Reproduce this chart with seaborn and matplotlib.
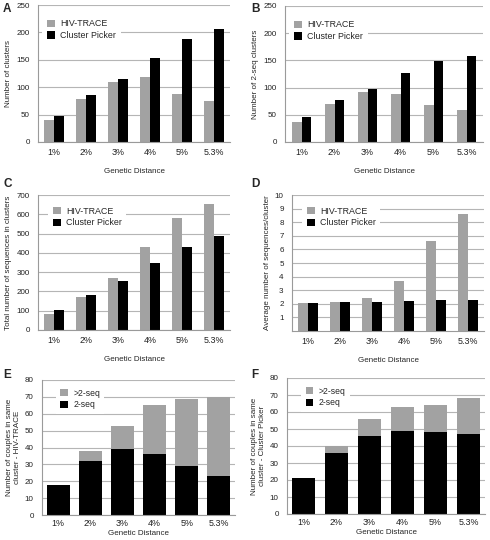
import matplotlib
matplotlib.use("Agg")
import matplotlib.pyplot as plt
import seaborn as sns
import pandas as pd

sns.set_theme(style="white")
plt.rcParams['font.family'] = ['Liberation Sans', 'DejaVu Sans']

categories = ["1%", "2%", "3%", "4%", "5%", "5.3%"]
methods = ["HIV-TRACE", "Cluster Picker"]

a_trace = [40, 78, 110, 118, 88, 75]
a_picker = [48, 85, 115, 154, 188, 206]

b_trace = [36, 70, 92, 89, 68, 58]
b_picker = [46, 78, 98, 127, 149, 158]

c_trace = [85, 170, 272, 432, 582, 655]
c_picker = [102, 180, 253, 347, 428, 485]

d_trace = [2.05, 2.1, 2.45, 3.7, 6.6, 8.6]
d_picker = [2.05, 2.1, 2.15, 2.2, 2.25, 2.3]

e_two = [18, 32, 39, 36, 29, 23]
e_more = [0, 6, 14, 29, 40, 47]

f_two = [21, 36, 46, 49, 48, 47]
f_more = [0, 4, 10, 14, 16, 21]

GRAY = "#a2a2a2"
BLACK = "#000000"
GRID = "#b5b5b5"
FS = 5.8

W, H = 490, 540
fig = plt.figure(figsize=(W / 100, H / 100), dpi=100)


def add_ax(x0, y0, x1, y1):
    return fig.add_axes([x0 / W, 1 - y1 / H, (x1 - x0) / W, (y1 - y0) / H])


def style(ax, ylabel, ymax, step, yticks=None, xpad=4, xlabelpad=8):
    ax.set_ylim(0, ymax)
    if yticks is None:
        yticks = list(range(0, ymax + 1, step))
    ax.set_yticks(yticks)
    ax.yaxis.grid(True, color=GRID, linewidth=0.8)
    ax.xaxis.grid(False)
    ax.set_axisbelow(True)
    for s in ["top", "right"]:
        ax.spines[s].set_visible(False)
    for s in ["left", "bottom"]:
        ax.spines[s].set_color("#9a9a9a")
        ax.spines[s].set_linewidth(0.8)
    ax.tick_params(axis="y", labelsize=FS, length=2, width=0.6, color="#9a9a9a", pad=4, labelcolor="#222222")
    ax.tick_params(axis="x", labelsize=FS + 0.6, length=0, pad=xpad, labelcolor="#222222")
    ax.set_ylabel(ylabel, fontsize=FS, labelpad=3)
    ax.set_xlabel("Genetic Distance", fontsize=FS, labelpad=xlabelpad)
    ax.set_xlim(-0.5, 5.5)


def grouped(ax, trace, picker, ylabel, ymax, step, yticks=None, leg_anchor=(0.0, 1.0)):
    df = pd.DataFrame({
        "distance": categories * 2,
        "value": trace + picker,
        "method": [methods[0]] * 6 + [methods[1]] * 6,
    })
    sns.barplot(data=df, x="distance", y="value", hue="method", order=categories,
                hue_order=methods, palette=[GRAY, BLACK], width=0.6, saturation=1,
                linewidth=0, ax=ax)
    style(ax, ylabel, ymax, step, yticks)
    leg = ax.legend(loc="upper left", bbox_to_anchor=leg_anchor, fontsize=FS + 0.6,
                    frameon=True, facecolor="white", edgecolor="white", framealpha=1,
                    handlelength=0.9, handleheight=0.9, handletextpad=0.6,
                    borderpad=0.5, labelspacing=0.3, fancybox=False)
    leg.get_frame().set_linewidth(0)


def stacked(ax, two, more, ylabel):
    totals = [a + b for a, b in zip(two, more)]
    sns.barplot(x=categories, y=totals, order=categories, color=GRAY, width=0.72,
                saturation=1, linewidth=0, ax=ax, label=">2-seq")
    sns.barplot(x=categories, y=two, order=categories, color=BLACK, width=0.72,
                saturation=1, linewidth=0, ax=ax, label="2-seq")
    style(ax, ylabel, 80, 10, xpad=3, xlabelpad=1)
    leg = ax.legend(loc="upper left", bbox_to_anchor=(0.05, 1.0), fontsize=FS + 0.4,
                    frameon=True, facecolor="white", edgecolor="white", framealpha=1,
                    handlelength=0.9, handleheight=0.9, handletextpad=0.6,
                    borderpad=0.5, labelspacing=0.3, fancybox=False)
    leg.get_frame().set_linewidth(0)


axA = add_ax(38, 5, 230, 142)
grouped(axA, a_trace, a_picker, "Number of clusters", 250, 50, leg_anchor=(0.0, 0.96))
axB = add_ax(285, 6, 483, 142)
grouped(axB, b_trace, b_picker, "Number of 2-seq clusters", 250, 50, leg_anchor=(0.0, 0.96))
axC = add_ax(38, 195, 230, 330)
grouped(axC, c_trace, c_picker, "Total number of sequences in clusters", 700, 100, leg_anchor=(0.03, 0.98))
axD = add_ax(292, 195, 484, 331)
grouped(axD, d_trace, d_picker, "Average number of sequences/cluster", 10, 1,
        yticks=list(range(1, 11)), leg_anchor=(0.03, 0.98))
axE = add_ax(42, 380, 235, 515)
stacked(axE, e_two, e_more, "Number of couples in same\ncluster - HIV-TRACE")
axF = add_ax(287, 378, 485, 514)
stacked(axF, f_two, f_more, "Number of couples in same\ncluster - Cluster Picker")

for letter, (x, y) in zip("ABCDEF", [(3, 9), (251, 9), (3, 184), (251, 184), (3, 375), (251, 375)]):
    fig.text(x / W, 1 - y / H, letter, fontsize=8.5, fontweight="bold", va="center", ha="left")

fig.savefig("out.png", dpi=100, facecolor="white")
